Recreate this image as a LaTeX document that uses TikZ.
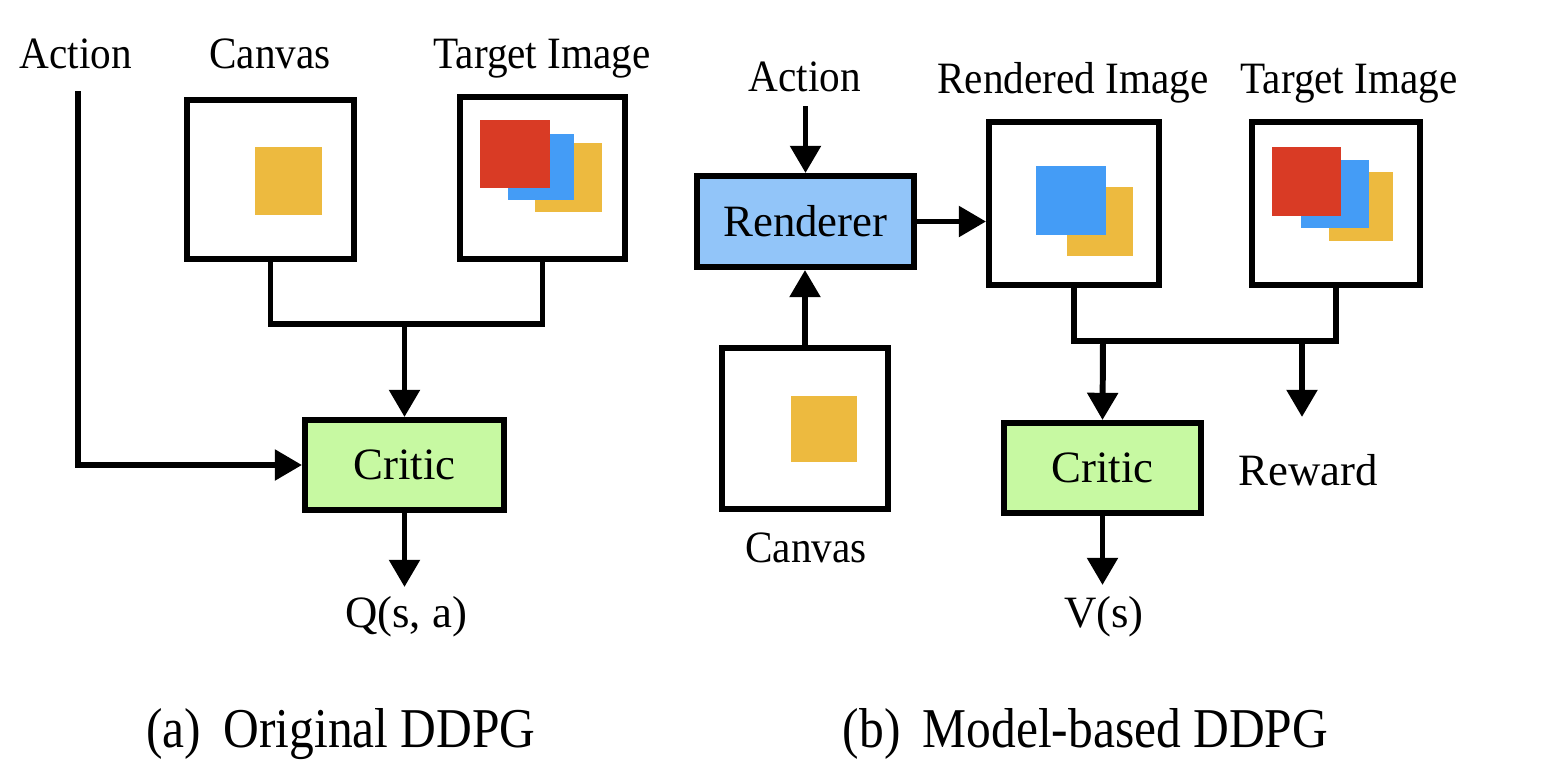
\documentclass[tikz,border=0pt]{standalone}
\usepackage{graphicx}
\usepackage{fontspec}
\setmainfont{Liberation Serif}
\usetikzlibrary{arrows.meta}
\newcommand{\narrowtxt}[1]{\scalebox{0.92}[1]{#1}}
\newcommand{\captnarrow}[1]{\scalebox{0.88}[1]{#1}}
\definecolor{criticgreen}{HTML}{C7F9A2}
\definecolor{rendblue}{HTML}{92C5F9}
\definecolor{sqred}{HTML}{D93B25}
\definecolor{sqblue}{HTML}{449CF6}
\definecolor{sqyellow}{HTML}{EDBA3F}
\begin{document}
\begin{tikzpicture}[x=0.02cm,y=-0.02cm,
  box/.style={draw, line width=3.4pt, inner sep=0pt, rectangle, font=\fontsize{25.5}{30}\selectfont},
  conn/.style={line width=3.4pt},
  arr/.style={conn, -{Triangle[length=15.5pt,width=17pt]}},
  lbl/.style={anchor=base, inner sep=0pt, font=\fontsize{25.5}{30}\selectfont},
  captxt/.style={anchor=base, inner sep=0pt, font=\fontsize{32}{38}\selectfont}]
\useasboundingbox (0,0) rectangle (1552,772);

% ---------- (a) Original DDPG ----------
\node[box, minimum width=3.34cm, minimum height=3.18cm] (canvasA) at (270.5,179.5) {};
\node[box, minimum width=3.30cm, minimum height=3.24cm] (targetA) at (542.5,178) {};
\node[box, fill=criticgreen, minimum width=3.98cm, minimum height=1.80cm] (criticA) at (404.5,465) {Critic};

\fill[sqyellow] (255,147) rectangle (322,215);
\fill[sqyellow] (535,143) rectangle (602,212);
\fill[sqblue] (508,134) rectangle (574,200);
\fill[sqred] (480,120) rectangle (550,188);

\node[lbl] (actAl) at (76,68) {\narrowtxt{Action}};
\node[lbl] (canvAl) at (270,68) {\narrowtxt{Canvas}};
\node[lbl] (tgtAl) at (542,68) {\narrowtxt{Target Image}};
\node[lbl] (qA) at (406,627) {Q(s, a)};

\coordinate (actAtop) at (78,91);
\draw[arr] (actAtop) |- (criticA.west);
\coordinate (jA) at (404.5,324);
\draw[conn] (canvasA.south) |- (jA -| targetA.south) -- (targetA.south);
\draw[arr] (jA) -- (criticA.north);
\coordinate (qtip) at (404.5,587);
\draw[arr] (criticA.south) -- (qtip);

% ---------- (b) Model-based DDPG ----------
\node[box, fill=rendblue, minimum width=4.34cm, minimum height=1.82cm] (renderer) at (805.5,221.5) {Renderer};
\node[box, minimum width=3.40cm, minimum height=3.26cm] (rendered) at (1074,203.5) {};
\node[box, minimum width=3.36cm, minimum height=3.26cm] (targetB) at (1336,203.5) {};
\node[box, minimum width=3.32cm, minimum height=3.22cm] (canvasB) at (805,428.5) {};
\node[box, fill=criticgreen, minimum width=3.94cm, minimum height=1.80cm] (criticB) at (1102.5,468) {Critic};

\fill[sqyellow] (1067,187) rectangle (1133,256);
\fill[sqblue] (1036,166) rectangle (1106,235);
\fill[sqyellow] (1329,172) rectangle (1393,241);
\fill[sqblue] (1301,160) rectangle (1369,228);
\fill[sqred] (1272,147) rectangle (1341,216);
\fill[sqyellow] (791,396) rectangle (857,462);

\node[lbl] (actBl) at (805,91) {\narrowtxt{Action}};
\node[lbl] (rendl) at (1073,93) {\narrowtxt{Rendered Image}};
\node[lbl] (tgtBl) at (1349,93) {\narrowtxt{Target Image}};
\node[lbl] (canvBl) at (806,562) {\narrowtxt{Canvas}};
\node[lbl] (rewl) at (1308,485) {Reward};
\node[lbl] (vB) at (1104,627) {V(s)};

\coordinate (actBtop) at (805.5,106);
\draw[arr] (actBtop) -- (renderer.north);
\draw[arr] (renderer.east) -- (renderer.east -| rendered.west);
\draw[arr] (canvasB.north) -- (canvasB.north |- renderer.south);
\coordinate (jB) at (1103,341);
\draw[conn] (rendered.south) |- (jB -| targetB.south) -- (targetB.south);
\draw[arr] (jB) -- (criticB.north);
\coordinate (rewTop) at (1302,341);
\coordinate (rewTip) at (1302,417);
\draw[arr] (rewTop) -- (rewTip);
\coordinate (vtip) at (1102.5,585);
\draw[arr] (criticB.south) -- (vtip);

% ---------- captions ----------
\node[captxt] (capA) at (341,747) {\captnarrow{(a)\hspace{0.45em}Original DDPG}};
\node[captxt] (capB) at (1085.5,747) {\captnarrow{(b)\hspace{0.45em}Model-based DDPG}};
\end{tikzpicture}
\end{document}
